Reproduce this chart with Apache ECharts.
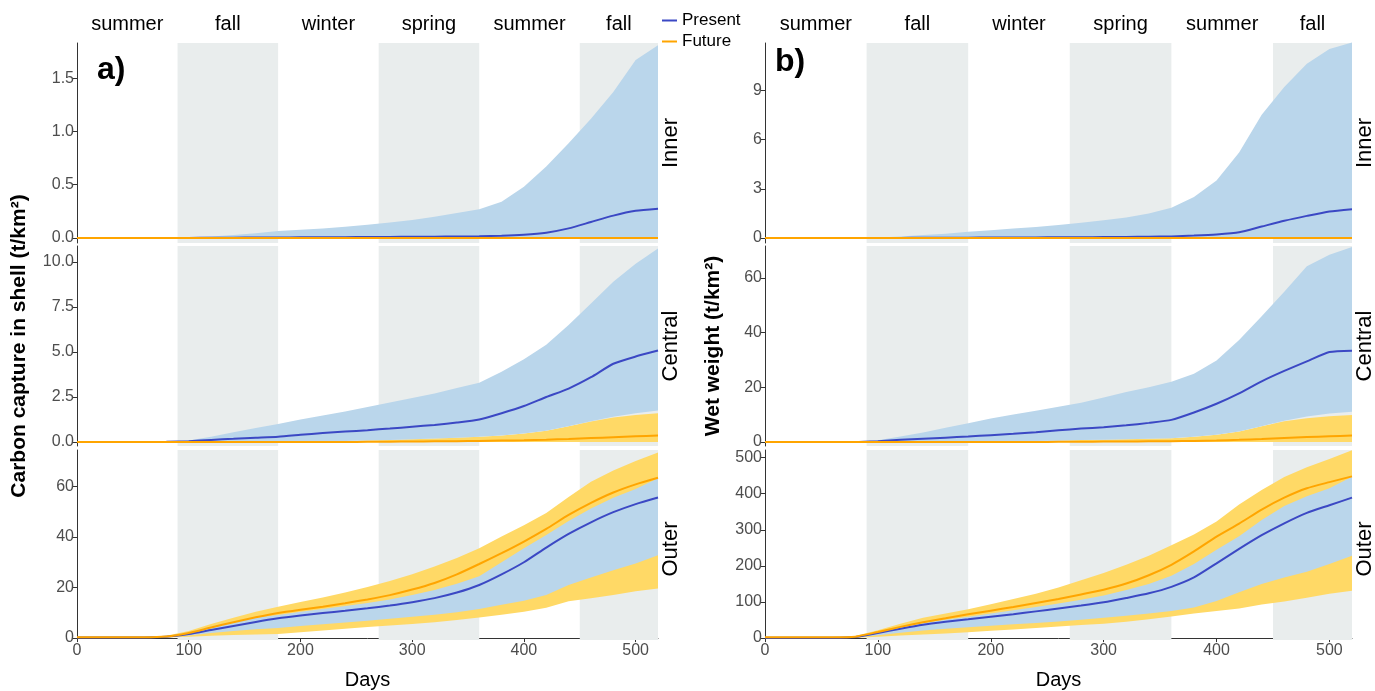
<!DOCTYPE html>
<html>
<head>
<meta charset="utf-8">
<script src="https://cdn.jsdelivr.net/npm/echarts@6/dist/echarts.min.js"></script>
<style>
  html, body { margin: 0; padding: 0; background: #fff; }
  #chart { width: 1375px; height: 691px; }
</style>
</head>
<body>
<div id="chart"></div>
<script>
// days sampled every 20
const days = [0, 20, 40, 60, 80, 100, 120, 140, 160, 180, 200, 220, 240, 260, 280, 300, 320, 340, 360, 380, 400, 420, 440, 460, 480, 500, 520];

const seasonNames = ["summer", "fall", "winter", "spring", "summer", "fall"];
const seasonStart = [0, 90, 180, 270, 360, 450];
const seasonEnd = [90, 180, 270, 360, 450, 520];
const seasonShaded = [false, true, false, true, false, true];

// a) carbon capture in shell (t/km2)
const aInnerPresLo = [0,0,0,0,0,0,0,0,0,0,0,0,0,0,0,0,0,0,0,0,0,0,0,0,0,0,0];
const aInnerPresHi = [0,0,0,0,0,0.004,0.015,0.028,0.045,0.065,0.078,0.09,0.105,0.125,0.145,0.17,0.2,0.235,0.27,0.34,0.48,0.67,0.89,1.12,1.37,1.67,1.81];
const aInnerPresMean = [0,0,0,0,0,0.001,0.002,0.003,0.004,0.005,0.006,0.007,0.008,0.009,0.01,0.011,0.012,0.014,0.016,0.02,0.03,0.05,0.09,0.15,0.21,0.255,0.275];
const aInnerFutLo = [0,0,0,0,0,0,0,0,0,0,0,0,0,0,0,0,0,0,0,0,0,0,0,0,0,0,0];
const aInnerFutHi = [0,0,0,0,0,0,0,0,0,0,0,0,0,0,0,0,0,0,0,0,0,0,0,0,0,0,0];
const aInnerFutMean = [0,0,0,0,0,0,0,0,0,0,0,0,0,0,0,0,0,0,0,0,0,0,0,0,0,0,0];

const aCentralPresLo = [0,0,0,0,0,0,0,0,0,0,0.02,0.04,0.06,0.08,0.11,0.15,0.19,0.24,0.29,0.37,0.48,0.63,0.88,1.15,1.4,1.6,1.75];
const aCentralPresHi = [0,0,0,0,0,0.08,0.3,0.55,0.78,1.0,1.25,1.47,1.7,1.95,2.2,2.45,2.7,3.0,3.3,3.9,4.6,5.4,6.5,7.7,8.9,9.9,10.75];
const aCentralPresMean = [0,0,0,0,0.01,0.05,0.12,0.18,0.24,0.3,0.4,0.5,0.58,0.66,0.75,0.85,0.95,1.08,1.25,1.6,2.0,2.5,2.97,3.6,4.35,4.75,5.08];
const aCentralFutLo = [0,0,0,0,0,0,0,0,0,0,0,0,0,0,0,0,0,0,0,0,0,0,0,0,0,0,0];
const aCentralFutHi = [0,0,0,0,0,0,0,0,0,0,0.02,0.04,0.06,0.08,0.11,0.15,0.19,0.24,0.29,0.37,0.48,0.63,0.88,1.14,1.37,1.5,1.6];
const aCentralFutMean = [0,0,0,0,0,0,0,0,0,0,0,0,0,0.01,0.02,0.03,0.04,0.05,0.06,0.08,0.1,0.13,0.17,0.22,0.27,0.32,0.36];

const aOuterPresLo = [0.1,0.1,0.1,0.1,0.3,1.0,2.0,2.8,3.5,4.0,4.8,5.5,6.2,6.9,7.6,8.4,9.2,10.2,11.5,13.2,14.8,17.0,21.0,24.0,26.8,29.5,32.8];
const aOuterPresHi = [0.3,0.3,0.3,0.3,0.7,2.3,4.6,6.6,8.0,9.1,10.4,11.5,12.7,13.9,15.3,17.0,19.0,21.5,24.5,30.0,35.5,40.8,46.3,51.3,55.5,59.0,63.2];
const aOuterPresMean = [0.2,0.2,0.2,0.2,0.5,1.6,3.2,4.8,6.4,7.8,8.9,9.9,10.8,11.8,12.9,14.2,15.8,18.0,21.0,25.2,30.0,35.8,41.2,45.8,49.8,53.0,55.6];
const aOuterFutLo = [0,0,0,0,0.2,0.5,0.9,1.2,1.4,1.6,2.3,3.0,3.7,4.4,5.0,5.6,6.3,7.2,8.1,9.2,10.4,12.0,14.6,15.8,17.0,18.5,19.6];
const aOuterFutHi = [0.5,0.5,0.5,0.5,0.9,2.8,5.6,8.0,10.4,12.4,14.3,16.1,18.0,20.2,22.6,25.2,28.3,31.7,35.5,40.2,44.6,49.5,55.8,61.8,66.3,70.0,73.4];
const aOuterFutMean = [0.3,0.3,0.3,0.3,0.6,2.0,4.2,6.3,8.2,9.9,11.2,12.4,13.8,15.3,17.0,19.2,21.8,25.2,29.3,33.6,38.2,43.2,48.7,53.5,57.6,60.8,63.4];

// b) wet weight (t/km2)
const bInnerPresLo = [0,0,0,0,0,0,0,0,0,0,0,0,0,0,0,0,0,0,0,0,0,0,0,0,0,0,0];
const bInnerPresHi = [0,0,0,0,0,0.03,0.1,0.18,0.27,0.38,0.48,0.58,0.68,0.8,0.93,1.08,1.25,1.5,1.85,2.5,3.5,5.2,7.5,9.2,10.6,11.5,11.9];
const bInnerPresMean = [0,0,0,0,0,0.005,0.01,0.015,0.02,0.025,0.03,0.035,0.04,0.045,0.05,0.06,0.07,0.08,0.1,0.15,0.22,0.35,0.7,1.05,1.35,1.62,1.76];
const bInnerFutLo = [0,0,0,0,0,0,0,0,0,0,0,0,0,0,0,0,0,0,0,0,0,0,0,0,0,0,0];
const bInnerFutHi = [0,0,0,0,0,0,0,0,0,0,0,0,0,0,0,0,0,0,0,0,0,0,0,0,0,0,0];
const bInnerFutMean = [0,0,0,0,0,0,0,0,0,0,0,0,0,0,0,0,0,0,0,0,0,0,0,0,0,0,0];

const bCentralPresLo = [0,0,0,0,0,0,0,0,0,0,0.1,0.2,0.35,0.5,0.7,0.85,1.0,1.15,1.35,1.9,2.7,3.8,5.8,7.8,9.3,10.4,11.1];
const bCentralPresHi = [0,0,0,0,0,0.6,2.0,3.5,5.2,6.9,8.6,10.1,11.4,12.9,14.4,16.3,18.3,20.0,22.0,25.0,29.8,37.3,46.0,55.0,64.3,68.5,71.3];
const bCentralPresMean = [0,0,0,0,0,0.3,0.8,1.2,1.6,2.0,2.5,3.0,3.6,4.3,4.9,5.4,6.1,7.0,8.1,10.8,14.0,17.8,22.2,26.0,29.5,32.9,33.4];
const bCentralFutLo = [0,0,0,0,0,0,0,0,0,0,0,0,0,0,0,0,0,0,0,0,0,0,0,0,0,0,0];
const bCentralFutHi = [0,0,0,0,0,0,0,0,0,0,0.1,0.2,0.35,0.5,0.7,0.85,1.0,1.15,1.35,1.9,2.7,3.8,5.8,7.6,8.7,9.4,9.9];
const bCentralFutMean = [0,0,0,0,0,0,0,0,0,0,0,0,0,0.05,0.1,0.15,0.2,0.25,0.3,0.4,0.55,0.8,1.1,1.45,1.8,2.1,2.4];

const bOuterPresLo = [0.5,0.5,0.5,0.5,2,8,15,21,26,30,34,38,42,46,51,56,62,68,75,85,103,127,150,168,184,205,228];
const bOuterPresHi = [1.5,1.5,1.5,1.5,4,16,30,42,51,59,68,77,86,96,106,118,133,150,173,205,245,282,327,366,393,415,447];
const bOuterPresMean = [1,1,1,1,3,14,26,37,45,52,59,66,74,82,90,99,111,124,142,168,207,247,285,318,347,368,389];
const bOuterFutLo = [0,0,0,0,1,4,7,10,13,16,20,24,28,32,36,40,45,52,60,68,75,82,93,101,112,123,131];
const bOuterFutHi = [3,3,3,3,6,22,40,56,68,80,94,108,123,140,160,180,203,228,257,287,323,370,410,446,473,496,520];
const bOuterFutMean = [2,2,2,2,4,17,31,44,55,66,76,86,97,108,121,134,151,174,203,240,281,317,356,389,415,432,448];

// tick labels
const aInnerTicks = [0, 0.5, 1, 1.5];
const aCentralTicks = [0, 2.5, 5, 7.5, 10];
const aOuterTicks = [0, 20, 40, 60];
const bInnerTicks = [0, 3, 6, 9];
const bCentralTicks = [0, 20, 40, 60];
const bOuterTicks = [0, 100, 200, 300, 400, 500];
const xTicks = [0, 100, 200, 300, 400, 500];

const rowNames = ["Inner", "Central", "Outer"];
const yTitles = ["Carbon capture in shell (t/km\u00b2)", "Wet weight (t/km\u00b2)"];

const facets = [
  { panel: 0, row: 0, min: -0.047, max: 1.83, ticks: aInnerTicks, dec: 1,
    pLo: aInnerPresLo, pHi: aInnerPresHi, pMean: aInnerPresMean, fLo: aInnerFutLo, fHi: aInnerFutHi, fMean: aInnerFutMean },
  { panel: 0, row: 1, min: -0.22, max: 10.89, ticks: aCentralTicks, dec: 1,
    pLo: aCentralPresLo, pHi: aCentralPresHi, pMean: aCentralPresMean, fLo: aCentralFutLo, fHi: aCentralFutHi, fMean: aCentralFutMean },
  { panel: 0, row: 2, min: -0.76, max: 74.4, ticks: aOuterTicks, dec: 0,
    pLo: aOuterPresLo, pHi: aOuterPresHi, pMean: aOuterPresMean, fLo: aOuterFutLo, fHi: aOuterFutHi, fMean: aOuterFutMean },
  { panel: 1, row: 0, min: -0.3, max: 11.87, ticks: bInnerTicks, dec: 0,
    pLo: bInnerPresLo, pHi: bInnerPresHi, pMean: bInnerPresMean, fLo: bInnerFutLo, fHi: bInnerFutHi, fMean: bInnerFutMean },
  { panel: 1, row: 1, min: -1.46, max: 71.7, ticks: bCentralTicks, dec: 0,
    pLo: bCentralPresLo, pHi: bCentralPresHi, pMean: bCentralPresMean, fLo: bCentralFutLo, fHi: bCentralFutHi, fMean: bCentralFutMean },
  { panel: 1, row: 2, min: -5.3, max: 521, ticks: bOuterTicks, dec: 0,
    pLo: bOuterPresLo, pHi: bOuterPresHi, pMean: bOuterPresMean, fLo: bOuterFutLo, fHi: bOuterFutHi, fMean: bOuterFutMean }
];

const panelLeft = [77, 765];
const panelWidth = [581, 587];
const rowTop = [43, 246, 450];
const rowHeight = [200, 200, 198];
const titleGap = [47, 41];

const PRESENT = "#3b48c4", FUTURE = "#ffa500";
const PRES_FILL = "#bad6eb", FUT_FILL = "#ffd966", SHADE = "#e9eded";
const FONT = "'Liberation Sans', Arial, sans-serif";

function pairs(vals) {
  return days.map((d, i) => [d, vals[i]]);
}

// ribbon between lo and hi, drawn with the axis scales
function ribbon(i, lo, hi, color) {
  return {
    type: "custom", xAxisIndex: i, yAxisIndex: i, silent: true, animation: false,
    data: [[days[0], lo[0]]],
    renderItem: (params, api) => {
      const up = days.map((d, k) => api.coord([d, hi[k]]));
      const dn = days.map((d, k) => api.coord([d, lo[k]])).reverse();
      return { type: "polygon", shape: { points: up.concat(dn) }, style: { fill: color } };
    }
  };
}

let grids = [], xAxes = [], yAxes = [], series = [], graphics = [];

facets.forEach((f, i) => {
  grids.push({
    left: panelLeft[f.panel], width: panelWidth[f.panel],
    top: rowTop[f.row], height: rowHeight[f.row]
  });
  const bottom = f.row === 2;
  xAxes.push({
    type: "value", gridIndex: i, min: 0, max: 520, interval: 100,
    show: bottom,
    name: bottom ? "Days" : "",
    nameLocation: "middle", nameGap: 30,
    nameTextStyle: { fontSize: 20, color: "#000" },
    axisLine: { lineStyle: { color: "#333", width: 1 } },
    axisTick: { length: 4, customValues: xTicks, lineStyle: { color: "#333" } },
    axisLabel: { color: "#4d4d4d", fontSize: 16, margin: 3, customValues: xTicks },
    splitLine: { show: false }
  });
  yAxes.push({
    type: "value", gridIndex: i, min: f.min, max: f.max,
    name: f.row === 1 ? yTitles[f.panel] : "",
    nameLocation: "middle", nameRotate: 90, nameGap: titleGap[f.panel],
    nameTextStyle: { fontSize: 21, fontWeight: "bold", color: "#000" },
    axisLine: { show: true, lineStyle: { color: "#333", width: 1 } },
    axisTick: { show: true, length: 4, customValues: f.ticks, lineStyle: { color: "#333" } },
    axisLabel: {
      color: "#4d4d4d", fontSize: 16, margin: 3, customValues: f.ticks,
      formatter: v => f.dec ? v.toFixed(f.dec) : String(v)
    },
    splitLine: { show: false }
  });

  series.push(ribbon(i, f.fLo, f.fHi, FUT_FILL));
  series.push(ribbon(i, f.pLo, f.pHi, PRES_FILL));

  series.push({
    type: "line", name: "Present", xAxisIndex: i, yAxisIndex: i, symbol: "none",
    silent: true, animation: false, data: pairs(f.pMean), smooth: 0.2,
    itemStyle: { color: PRESENT }, lineStyle: { color: PRESENT, width: 2 },
    markArea: {
      silent: true,
      label: { show: f.row === 0, position: "top", distance: 9, color: "#000", fontSize: 20 },
      data: seasonNames.map((n, k) => [
        { name: n, xAxis: seasonStart[k],
          itemStyle: { color: seasonShaded[k] ? SHADE : "rgba(0,0,0,0)" } },
        { xAxis: seasonEnd[k] }
      ])
    }
  });
  series.push({
    type: "line", name: "Future", xAxisIndex: i, yAxisIndex: i, symbol: "none",
    silent: true, animation: false, data: pairs(f.fMean), smooth: 0.2,
    itemStyle: { color: FUTURE }, lineStyle: { color: FUTURE, width: 2 }
  });

  // facet strip label on the right
  graphics.push({
    type: "text", z: 100,
    x: panelLeft[f.panel] + panelWidth[f.panel] + 13,
    y: rowTop[f.row] + rowHeight[f.row] / 2,
    rotation: Math.PI / 2,
    style: { text: rowNames[f.row], font: "22px " + FONT,
      fill: "#000", textAlign: "center", textVerticalAlign: "middle" }
  });
});

graphics.push({
  type: "text", z: 100, x: 97, y: 70,
  style: { text: "a)", font: "bold 32px " + FONT, fill: "#000", textVerticalAlign: "middle" }
});
graphics.push({
  type: "text", z: 100, x: 775, y: 62,
  style: { text: "b)", font: "bold 32px " + FONT, fill: "#000", textVerticalAlign: "middle" }
});

const chart = echarts.init(document.getElementById("chart"));
chart.setOption({
  animation: false,
  backgroundColor: "#fff",
  textStyle: { fontFamily: FONT },
  legend: {
    data: ["Present", "Future"],
    orient: "vertical", left: 662, top: 12, padding: 0, itemGap: 4,
    icon: "rect", itemWidth: 15, itemHeight: 2,
    textStyle: { fontSize: 17, color: "#000" }
  },
  grid: grids,
  xAxis: xAxes,
  yAxis: yAxes,
  series: series,
  graphic: graphics
});
</script>
</body>
</html>
